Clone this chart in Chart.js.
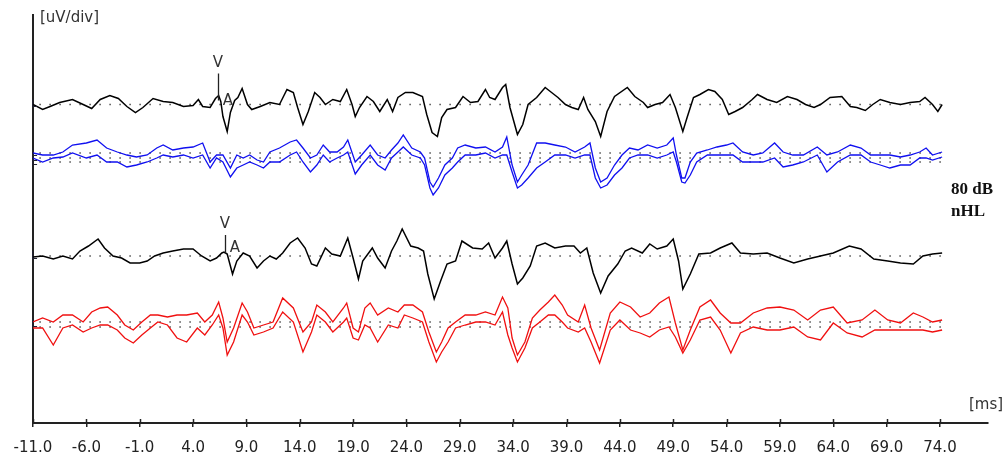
<!DOCTYPE html>
<html>
<head>
<meta charset="utf-8">
<script src="https://cdn.jsdelivr.net/npm/chart.js@4.4.1/dist/chart.umd.min.js"></script>
<style>
  html, body { margin: 0; padding: 0; background: #fff; }
</style>
</head>
<body>
<canvas id="ch" width="1007" height="461"></canvas>
<script>
// x axis ticks in ms
const tickMs = [-11, -6, -1, 4, 9, 14, 19, 24, 29, 34, 39, 44, 49, 54, 59, 64, 69, 74];

// upper black (averaged) trace, uV-ish deviation from its baseline
const blackTopT = [-11, -10.1, -9.4, -8.5, -7.3, -6.3, -5.5, -4.7, -3.8, -3.0, -2.2, -1.4, -0.7, 0.25, 1.2, 2.1, 3.1, 4.0, 4.5, 4.9,
  5.6, 6.1, 6.4, 6.6, 6.8, 7.2, 7.5, 7.9, 8.2, 8.6, 9.1, 9.5, 10.3, 11.2, 12.1, 12.8, 13.4, 13.8, 14.3, 14.8,
  15.4, 15.9, 16.4, 17.1, 17.8, 18.4, 18.9, 19.2, 19.6, 20.3, 20.9, 21.5, 22.2, 22.7, 23.2, 23.9, 24.6, 25.5, 25.9, 26.4,
  26.9, 27.3, 27.8, 28.6, 29.3, 30.0, 30.7, 31.4, 31.8, 32.3, 33.0, 33.3, 33.7, 34.4, 34.9, 35.4, 36.2, 37.0, 37.6, 38.2,
  38.9, 39.5, 40.1, 40.6, 41.0, 41.7, 42.2, 42.8, 43.5, 44.7, 45.4, 46.2, 46.6, 47.3, 48.0, 48.7, 49.2, 49.9, 50.3, 50.9,
  51.5, 52.3, 52.9, 53.6, 54.2, 54.8, 55.5, 56.4, 56.9, 57.8, 58.7, 59.7, 60.6, 61.4, 62.2, 62.8, 63.7, 64.8, 65.6, 66.2,
  67.0, 67.7, 68.4, 69.3, 70.3, 71.2, 72.1, 72.6, 73.3, 73.8, 74.2];
const blackTopV = [0, -5, -2, 2, 5, 0, -4, 5, 9, 6, -2, -8, -3, 6, 3, 2, -2, -1, 5, -2,
  -3, 6, 9, 3, -12, -27, -8, 4, 7, 16, 0, -5, -2, 2, 0, 15, 12, -3, -20, -7,
  12, 7, 0, 5, 3, 15, 0, -12, -3, 8, 3, -7, 5, -7, 7, 12, 12, 8, -10, -28,
  -32, -13, -5, -3, 8, 2, 3, 15, 7, 5, 17, 20, -3, -30, -20, 0, 7, 17, 12, 7,
  0, -3, -5, 7, -5, -17, -32, -7, 8, 17, 8, 2, -3, 0, 2, 10, -3, -27, -13, 7,
  10, 15, 13, 5, -10, -7, -3, 5, 10, 5, 2, 8, 5, 0, -3, 0, 7, 8, -2, -3,
  -6, 0, 5, 2, 0, 2, 3, 7, 0, -7, 0];

// blue single sweeps
const blueT = [-11, -10.1, -9.1, -8.2, -7.3, -6.0, -5.0, -4.1, -3.1, -2.2,
  -1.3, -0.3, 0.6, 1.2, 2.1, 3.1, 4.0, 4.9, 5.6, 6.2,
  6.8, 7.5, 8.1, 8.7, 9.3, 10.0, 10.6, 11.2, 12.1, 13.1,
  13.7, 14.3, 15.0, 15.6, 16.2, 16.8, 17.5, 18.1, 18.5, 19.2,
  19.8, 20.6, 21.3, 22.0, 22.6, 23.2, 23.7, 24.5, 25.3, 25.7,
  26.2, 26.5, 27.0, 27.6, 28.3, 28.8, 29.5, 30.5, 31.4, 32.3,
  33.0, 33.4, 33.9, 34.4, 34.8, 35.4, 36.2, 37.0, 37.9, 38.9,
  39.8, 40.7, 41.2, 41.7, 42.2, 42.8, 43.5, 44.2, 44.9, 45.7,
  46.6, 47.5, 48.4, 49.0, 49.3, 49.8, 50.1, 50.6, 51.2, 52.2,
  53.1, 54.0, 54.6, 55.5, 56.5, 57.4, 58.5, 59.3, 60.2, 61.2,
  62.5, 63.4, 64.4, 65.6, 66.6, 67.5, 68.4, 69.3, 70.3, 71.2,
  72.1, 72.7, 73.3, 74.2];
const blueA = [4, 2, 2, 5, 12, 14, 17, 9, 5, 2,
  0, 2, 9, 12, 7, 9, 10, 14, -5, 2,
  2, -11, 2, -1, 2, -3, -5, 5, 9, 15,
  17, 9, -1, 2, 12, 5, 5, 10, 17, -5,
  2, 12, 2, -1, 7, 14, 22, 9, 5, -1,
  -25, -30, -21, -8, -1, 9, 12, 9, 10, 5,
  10, 20, -8, -25, -18, -8, 14, 14, 12, 10,
  5, 10, 14, -11, -25, -21, -8, 2, 9, 7,
  12, 9, 12, 19, 2, -21, -21, -5, 4, 7,
  10, 12, 14, 5, 2, 4, 14, 5, 2, 2,
  10, 2, 5, 12, 9, 2, 2, 2, 0, 2,
  5, 9, 2, 5];
const blueB = [-1, -5, -1, 0, 4, -1, 2, -5, -5, -10,
  -8, -5, -1, 2, 0, 2, -1, 2, -11, -1,
  -5, -20, -11, -8, -5, -8, -11, -5, -5, 2,
  5, -5, -15, -8, 2, -5, -1, 2, 5, -17,
  -8, 2, -8, -13, -1, 5, 10, 2, -1, -8,
  -31, -38, -31, -18, -11, -5, 2, 2, 4, -1,
  2, 2, -15, -31, -28, -21, -11, -5, 2, 2,
  -1, 2, 2, -21, -31, -28, -18, -11, -1, 2,
  2, -1, 2, 5, -5, -25, -26, -18, -5, 2,
  2, 2, 2, -5, -5, -5, -1, -10, -8, -5,
  2, -15, -5, 2, 2, -5, -8, -11, -8, -8,
  -1, -1, -3, 0];

// lower black (averaged) trace
const blackBotT = [-11, -10.1, -9.1, -8.2, -7.3, -6.6, -5.8, -4.9, -4.3, -3.5, -2.7, -1.9, -1.0, -0.3, 0.4, 1.2, 2.1, 3.1, 4.0, 4.8,
  5.6, 6.2, 6.7, 6.9, 7.2, 7.7, 8.1, 8.7, 9.3, 10.0, 10.6, 11.2, 11.8, 12.4, 13.1, 13.8, 14.5, 15.1, 15.6, 16.4,
  17.0, 17.8, 18.5, 19.0, 19.5, 19.9, 20.8, 21.3, 22.0, 22.6, 23.1, 23.6, 24.4, 25.1, 25.6, 26.0, 26.6, 27.2, 27.8, 28.6,
  29.2, 30.2, 31.1, 31.7, 32.3, 33.0, 33.4, 33.9, 34.4, 34.9, 35.6, 36.2, 37.0, 37.9, 38.9, 39.7, 40.3, 40.9, 41.5, 42.2,
  42.9, 43.8, 44.5, 45.1, 46.1, 46.8, 47.5, 48.4, 49.0, 49.5, 49.9, 50.6, 51.4, 52.5, 53.4, 54.5, 55.3, 56.5, 57.8, 59.0,
  60.3, 61.6, 62.8, 64.0, 65.5, 66.6, 67.8, 69.1, 70.3, 71.5, 72.4, 73.3, 74.2];
const blackBotV = [-1, 0, -3, 0, -3, 5, 10, 17, 8, 0, -2, -7, -7, -5, 0, 3, 5, 7, 7, 0,
  -5, -2, 3, 4, 2, -18, -5, 3, 0, -12, -5, 0, -3, 3, 13, 18, 8, -8, -10, 8,
  2, 0, 18, -2, -23, -5, 8, -2, -12, 5, 15, 27, 10, 8, 5, -18, -43, -25, -8, -5,
  15, 8, 7, 13, -2, 8, 15, -8, -28, -22, -10, 10, 13, 8, 10, 10, 3, 8, -17, -37,
  -20, -8, 5, 8, 3, 12, 7, 10, 17, -5, -33, -18, 2, 3, 8, 13, 3, 2, 3, -2,
  -7, -3, 0, 3, 10, 7, -3, -5, -7, -8, 0, 2, 3];

// red single sweeps
const redT = [-11, -10.1, -9.1, -8.2, -7.3, -6.3, -5.5, -4.7, -4.0, -3.1, -2.4, -1.6, -0.8, 0.0, 0.7, 1.6, 2.5, 3.4, 4.4, 5.1,
  5.8, 6.4, 6.8, 7.2, 7.8, 8.6, 9.1, 9.7, 10.6, 11.5, 12.4, 13.4, 14.3, 15.1, 15.6, 16.4, 17.1, 18.1, 18.4, 19.0,
  19.5, 20.1, 20.6, 21.3, 22.3, 23.2, 23.8, 24.6, 25.5, 26.1, 26.8, 27.3, 27.9, 28.6, 29.5, 30.5, 31.4, 32.3, 33.0, 33.5,
  33.9, 34.4, 35.1, 35.8, 36.5, 37.3, 37.9, 38.6, 39.1, 40.1, 40.7, 41.3, 42.1, 43.1, 44.0, 45.0, 45.9, 46.8, 47.7, 48.6,
  49.2, 49.9, 50.6, 51.5, 52.5, 53.4, 54.4, 55.3, 56.5, 57.8, 59.0, 60.3, 61.6, 62.8, 64.0, 65.3, 66.7, 67.9, 69.1, 70.3,
  71.5, 72.4, 73.3, 74.2];
const redA = [2, 6, 2, 9, 9, 2, 12, 16, 17, 9, -1, -6, 2, 9, 9, 7, 9, 9, 11, 2,
  9, 22, 6, -18, -4, 21, 12, -4, -1, 2, 26, 16, -8, 2, 19, 12, 2, 16, 21, -4,
  -8, 16, 21, 9, 16, 12, 19, 19, 12, -8, -28, -18, -4, 2, 9, 9, 12, 9, 27, 16,
  -14, -31, -18, 6, 14, 22, 29, 19, 9, 2, 19, -4, -26, 11, 22, 17, 7, 11, 21, 27,
  1, -26, -6, 17, 24, 11, 1, 1, 11, 16, 17, 14, 4, 14, 17, 1, 4, 14, 4, 1,
  11, 7, 2, 4];
const redB = [-4, -4, -21, -4, -1, -8, -4, -1, -1, -6, -14, -19, -11, -4, 2, -1, -14, -18, -4, -11,
  -1, 9, -4, -31, -18, 9, 2, -11, -8, -4, 12, 2, -28, -8, 9, 2, -8, 2, 6, -14,
  -16, -1, -4, -18, -1, -4, 9, 6, 2, -18, -38, -28, -18, -4, -1, 2, 2, -1, 12, -11,
  -24, -38, -24, -4, 2, 9, 9, 2, -4, -8, -4, -18, -39, -6, 4, -6, -9, -13, -6, -3,
  -13, -29, -16, 4, 7, -6, -29, -9, -3, -6, -6, -3, -13, -16, 1, -9, -13, -6, -6, -6,
  -6, -6, -8, -6];

// peak marks
const peakTime = [6.3, 7.3, 7.0, 7.9];
const peakName = ['V', 'A', 'V', 'A'];
const levelText = ['80 dB', 'nHL'];

// layout: baselines in plot units (1 unit = 1 px, 0 at x axis)
const base = { top: 318.5, blue: 266, bot: 167, red: 99 };
const dotRows = [318.5, 270, 265, 261, 167, 101, 96];
const endMs = 74.2;

function pts(t, v, b) {
  return t.map((x, i) => ({ x: x, y: b + v[i] }));
}

const datasets = [];
dotRows.forEach(b => {
  datasets.push({ data: [{ x: -10.4, y: b }, { x: endMs, y: b }], borderColor: '#444',
    borderWidth: 1.4, borderDash: [1.4, 8.6], order: 10 });
});
const trace = (data, color, w) => ({ data: data, borderColor: color, borderWidth: w, order: 1 });
datasets.push(trace(pts(blueT, blueA, base.blue), '#1010f0', 1.3));
datasets.push(trace(pts(blueT, blueB, base.blue), '#1010f0', 1.3));
datasets.push(trace(pts(redT, redA, base.red), '#f01010', 1.3));
datasets.push(trace(pts(redT, redB, base.red), '#f01010', 1.3));
datasets.push(trace(pts(blackTopT, blackTopV, base.top), '#000', 1.5));
datasets.push(trace(pts(blackBotT, blackBotV, base.bot), '#000', 1.5));

const annot = {
  id: 'annot',
  afterDraw(chart) {
    const { ctx, scales: { x, y } } = chart;
    ctx.save();
    // tick marks poke a bit above the axis
    ctx.strokeStyle = '#222';
    ctx.lineWidth = 1.5;
    tickMs.forEach(v => {
      const px = Math.round(x.getPixelForValue(v)) + 0.5;
      ctx.beginPath();
      ctx.moveTo(px, y.bottom - 4);
      ctx.lineTo(px, y.bottom);
      ctx.stroke();
    });

    ctx.fillStyle = '#333';
    ctx.textBaseline = 'middle';
    ctx.textAlign = 'left';
    ctx.font = '15px "DejaVu Sans"';
    ctx.fillText('[uV/div]', 40, 18);
    ctx.fillText('[ms]', 969, 405);

    ctx.fillStyle = '#111';
    ctx.font = 'bold 17px "Liberation Serif"';
    ctx.fillText(levelText[0], 951, 190);
    ctx.fillText(levelText[1], 951, 212);

    // little "L" tags at each baseline
    ctx.font = '11px "DejaVu Sans"';
    ctx.fillStyle = '#223';
    [base.top, 270, 265, 261, base.bot, 99].forEach(b => {
      ctx.fillText('L', 31, y.getPixelForValue(b));
    });

    // V / A peak labels
    const rows = [base.top, base.top, base.bot, base.bot];
    const style = [{ dy: -41, line: [-31, -4] }, { dy: -3 }, { dy: -32, line: [-21, -2] }, { dy: -8 }];
    ctx.font = '15px "DejaVu Sans"';
    ctx.textAlign = 'center';
    ctx.fillStyle = '#333';
    ctx.strokeStyle = '#222';
    ctx.lineWidth = 1.3;
    peakTime.forEach((t, i) => {
      const px = Math.round(x.getPixelForValue(t));
      const py = y.getPixelForValue(rows[i]);
      ctx.fillText(peakName[i], px, py + style[i].dy);
      if (style[i].line) {
        ctx.beginPath();
        ctx.moveTo(px + 0.5, py + style[i].line[0]);
        ctx.lineTo(px + 0.5, py + style[i].line[1]);
        ctx.stroke();
      }
    });
    ctx.restore();
  }
};

new Chart(document.getElementById('ch').getContext('2d'), {
  type: 'line',
  data: { datasets: datasets },
  options: {
    responsive: false,
    animation: false,
    layout: { padding: { left: 33, top: 15, right: 19, bottom: 0 } },
    plugins: { legend: { display: false }, tooltip: { enabled: false } },
    elements: { point: { radius: 0 }, line: { tension: 0 } },
    scales: {
      x: {
        type: 'linear', min: -11, max: 78.5,
        afterBuildTicks: s => { s.ticks = tickMs.map(v => ({ value: v })); },
        afterFit: s => { s.height = 38; },
        ticks: { callback: v => v.toFixed(1), font: { family: 'DejaVu Sans', size: 15 }, color: '#222',
          padding: 12, maxRotation: 0, autoSkip: false },
        grid: { drawOnChartArea: false, tickLength: 4, color: '#222', lineWidth: 1.5 },
        border: { color: '#222', width: 2 }
      },
      y: {
        min: 0, max: 408,
        ticks: { display: false },
        grid: { display: false, drawTicks: false },
        border: { color: '#222', width: 2 },
        afterFit: s => { s.width = 0; }
      }
    }
  },
  plugins: [annot]
});
</script>
</body>
</html>
